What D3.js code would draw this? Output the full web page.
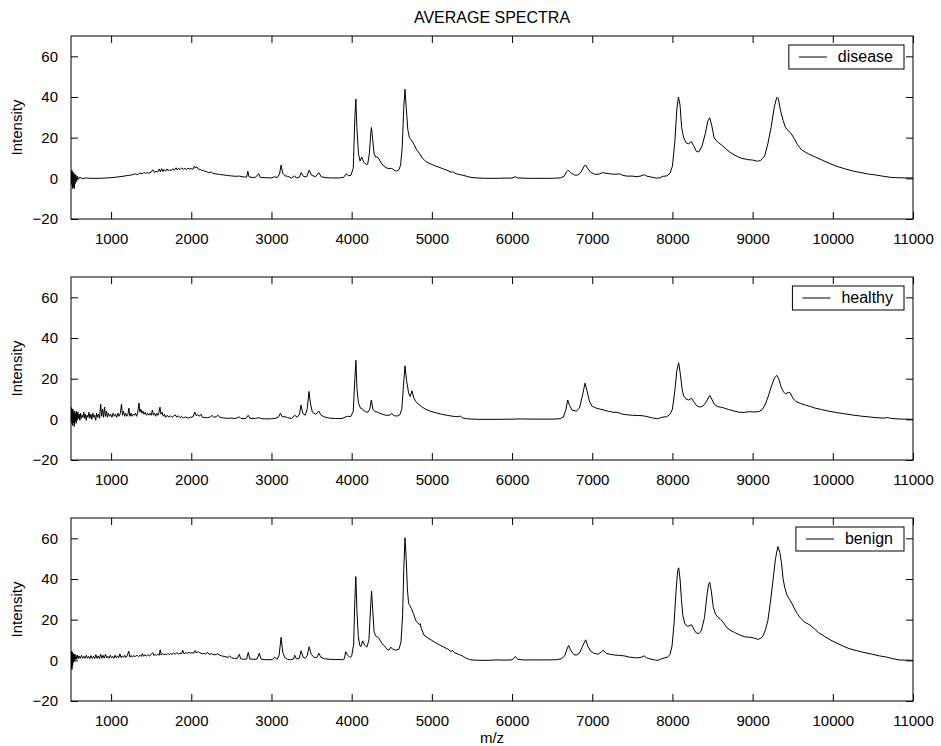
<!DOCTYPE html>
<html>
<head>
<meta charset="utf-8">
<script src="https://cdn.jsdelivr.net/npm/d3@7"></script>
<style>
  body { margin: 0; background: #fff; }
  svg text { font-family: "Liberation Sans", Arial, Helvetica, sans-serif; fill: #000; }
</style>
</head>
<body>
<svg id="chart"></svg>
<script>
// [m/z, intensity] pairs
let disease = [[500,3.5],[505,-3],[512,4],[518,-5],[524,3],[530,-4.5],[536,2.5],[542,-5],[548,2],[555,-2.5],[562,1.5],[570,-1.5],[580,1],[592,-0.5],[610,0.6],[640,-0.2],[680,0.2],[750,0],[850,0],[950,0.2],[1050,0.5],[1150,1],[1200,1.4],[1250,1.6],[1300,2.2],[1330,1.8],[1360,2.6],[1390,2.2],[1410,3],[1430,2.4],[1450,2.8],[1470,2.5],[1500,3.1],[1520,4.2],[1540,2.9],[1560,3.4],[1580,3.1],[1600,4.6],[1615,3.2],[1630,4.8],[1645,3.3],[1660,4.4],[1680,3.5],[1700,4.6],[1715,3.6],[1730,4.2],[1750,3.8],[1770,4.7],[1790,4],[1810,5.2],[1825,4.1],[1840,5],[1860,4.3],[1880,5.1],[1900,4.4],[1920,4.9],[1940,4.3],[1960,5],[1980,4.6],[2000,4.8],[2020,4.5],[2040,6],[2055,5],[2070,5.6],[2090,4.4],[2110,4.5],[2130,3.8],[2150,4],[2170,3.4],[2190,3.3],[2220,2.7],[2250,3.1],[2270,2.4],[2300,2.2],[2350,1.9],[2400,1.7],[2450,1.4],[2500,1.2],[2550,1],[2600,1.1],[2650,0.7],[2690,0.6],[2705,3.5],[2720,0.8],[2760,0.4],[2800,0.5],[2840,2.3],[2860,0.4],[2920,0.3],[3000,0.2],[3040,0.8],[3070,0.3],[3100,2],[3120,6.5],[3140,2.5],[3170,1.2],[3200,1],[3250,0.2],[3290,1.2],[3310,0.2],[3350,0.6],[3370,2.8],[3400,0.9],[3440,0.8],[3470,4],[3500,1.5],[3550,0.8],[3590,2.8],[3620,0.8],[3680,0.3],[3750,0.2],[3850,0.2],[3900,0.5],[3930,2.2],[3960,1.3],[3990,1.5],[4020,5],[4040,30],[4052,39],[4065,25],[4085,12],[4105,8.5],[4125,10.5],[4150,8],[4180,6.8],[4200,7],[4220,12],[4238,22],[4246,25],[4260,20],[4280,12],[4300,10.5],[4320,10.5],[4340,9.5],[4370,7.5],[4400,6],[4440,5],[4480,4.8],[4500,4.9],[4530,4],[4560,3.5],[4590,4.2],[4610,6.5],[4630,15],[4650,35],[4665,43.8],[4680,35],[4700,24],[4720,20],[4750,18.5],[4780,16.5],[4810,14],[4850,12],[4880,10],[4920,8.5],[4960,7.5],[5000,6.8],[5050,6],[5100,5.3],[5150,4.5],[5200,3.8],[5240,3],[5260,3.2],[5300,2.3],[5350,1.8],[5400,1.4],[5450,0.8],[5500,0.4],[5600,0.1],[5700,0],[5800,0],[5900,0.1],[6000,0.1],[6040,0.8],[6070,0.2],[6200,0],[6400,0],[6500,0],[6600,0.2],[6650,1],[6680,3.2],[6700,4],[6730,2.8],[6780,1.6],[6820,1.6],[6860,3],[6900,6],[6915,6.6],[6940,5],[6980,3],[7030,2],[7080,2],[7130,2.8],[7160,2.6],[7220,2.2],[7280,2],[7340,2.2],[7380,1.5],[7430,1.1],[7500,1.1],[7560,0.8],[7620,1.3],[7650,1.8],[7680,1.1],[7740,0.6],[7800,0.1],[7840,0.2],[7880,1],[7930,1.2],[7970,2.5],[8000,6],[8030,18],[8055,34],[8075,40],[8095,36],[8115,25],[8140,20],[8170,17.5],[8200,17],[8235,18],[8265,16],[8300,13.2],[8330,13],[8370,16],[8410,22],[8440,28],[8465,29.8],[8490,26],[8520,20],[8560,18],[8620,16.2],[8680,14],[8730,12.5],[8780,11.3],[8850,10],[8940,9.2],[9000,9],[9060,8.4],[9100,8.8],[9150,11],[9190,17],[9230,25],[9270,35],[9300,39.7],[9320,39.3],[9350,33],[9380,28.5],[9410,25],[9440,23.6],[9480,22],[9520,19.5],[9560,16.5],[9610,14],[9660,12.8],[9700,12],[9780,10.5],[9870,8.9],[9950,7.5],[10040,6],[10150,4.7],[10250,3.6],[10350,2.8],[10460,2],[10530,1.7],[10630,1],[10720,0.5],[10800,0.3],[10900,0.2],[11000,0.2]];

let healthy = [[500,6],[504,-1],[508,5.5],[512,-2],[516,4.5],[520,-3],[525,5],[530,-1.5],[535,3.5],[540,-3.5],[546,4],[552,-1],[558,3],[564,-2],[570,4],[578,0],[586,3.5],[594,0.5],[602,2.5],[610,-0.5],[620,3],[630,0.5],[640,2],[650,1],[660,3.5],[670,0.5],[680,2.5],[690,-0.5],[700,2],[712,1],[724,3.5],[736,0.5],[748,2.5],[760,0],[772,3],[784,1],[796,2],[808,-0.5],[820,3],[832,1],[844,2.5],[856,0.5],[870,7.5],[882,1.5],[894,5],[906,1],[918,6],[930,1.5],[942,4],[954,1],[966,3],[980,1.5],[995,2.5],[1010,1],[1025,3],[1040,1.5],[1055,2.5],[1070,1],[1085,3],[1100,1.5],[1115,3],[1130,7.5],[1142,2],[1155,4],[1168,1.5],[1182,3],[1196,1.5],[1210,2.5],[1222,5.5],[1234,1.5],[1248,3],[1262,1.5],[1276,2.5],[1290,2],[1304,3],[1318,1.5],[1332,3.5],[1348,8],[1360,3.5],[1372,5],[1385,3],[1398,4],[1410,2.5],[1425,3.5],[1440,2],[1455,3],[1470,2],[1485,3],[1500,2],[1515,4.5],[1528,2],[1542,3],[1556,1.5],[1570,3],[1584,2],[1598,3.5],[1610,6],[1622,2.5],[1636,3.5],[1650,1.5],[1665,2.5],[1680,1],[1700,2],[1720,1],[1740,1.8],[1760,1],[1780,1.6],[1800,2.2],[1820,1],[1840,1.8],[1860,0.8],[1880,1.4],[1900,0.7],[1930,1.2],[1960,0.6],[1990,1],[2020,1.2],[2045,3.5],[2060,1.8],[2080,2.3],[2100,1.5],[2120,2.5],[2140,1],[2170,0.9],[2200,0.8],[2240,1.2],[2260,2],[2280,1],[2310,1.3],[2330,2],[2360,1],[2400,0.7],[2450,0.5],[2500,0.6],[2550,0.4],[2600,1.2],[2620,0.4],[2680,0.4],[2710,2],[2730,0.5],[2800,0.4],[2840,0.8],[2880,0.3],[2950,0.2],[3000,0.3],[3050,0.5],[3090,1.2],[3110,3],[3135,1.2],[3170,1.3],[3200,0.8],[3250,0.4],[3290,2],[3320,1],[3350,2.5],[3368,7],[3390,3],[3420,2],[3445,5],[3468,13.7],[3485,8],[3510,3.5],[3550,2.5],[3590,4],[3620,2],[3660,1.2],[3720,0.6],[3800,0.4],[3880,0.4],[3930,1.3],[3950,1.5],[3990,1.4],[4020,4],[4040,20],[4053,29],[4066,15],[4085,8],[4110,5.5],[4135,5],[4170,3.8],[4200,3.5],[4225,5],[4245,9.5],[4265,5],[4290,3.8],[4320,3.6],[4340,3.2],[4380,2.5],[4430,2],[4470,2],[4500,2.8],[4530,1.8],[4570,1.6],[4600,2.2],[4625,5],[4645,16],[4665,26.3],[4685,19],[4710,13],[4730,11.2],[4752,14],[4775,10.5],[4800,8.8],[4830,7.5],[4870,6.3],[4920,5],[4980,4],[5050,3.2],[5120,2.5],[5200,1.9],[5280,1.4],[5330,1.3],[5355,1.6],[5380,0.8],[5430,0.3],[5500,0.1],[5600,0],[5800,0],[6000,0.1],[6100,0.2],[6300,0.1],[6500,0.1],[6600,0.3],[6640,1.2],[6670,4.5],[6694,9.5],[6715,7],[6750,4.5],[6800,4],[6840,5.5],[6880,12],[6910,17.8],[6935,14],[6965,9],[6995,6.5],[7050,5.5],[7100,5],[7150,4.5],[7200,4],[7260,3.5],[7320,3.4],[7360,2.7],[7420,2.3],[7500,2],[7560,1.9],[7620,1.8],[7680,1.4],[7740,0.8],[7800,0.3],[7840,0.6],[7880,1.1],[7930,1.3],[7970,2.5],[8000,5],[8030,14],[8055,24],[8078,27.8],[8100,22],[8120,15],[8140,11.5],[8170,10],[8200,9.5],[8238,10.3],[8270,8.5],[8300,6.8],[8340,6],[8380,6.5],[8420,8.5],[8465,11.7],[8490,10],[8520,7.5],[8560,6.3],[8600,6],[8650,5.5],[8700,4.8],[8760,4.2],[8830,3.5],[8900,3.4],[8960,3.8],[9020,3.6],[9080,3.8],[9120,4.8],[9160,7.5],[9200,12],[9240,17],[9275,20.5],[9300,21.6],[9325,20],[9355,16],[9385,13.5],[9410,12.5],[9445,13.3],[9470,13],[9500,10.5],[9540,8.8],[9600,7.8],[9660,7],[9720,6.3],[9780,5.5],[9860,4.8],[9950,4],[10050,3.3],[10150,2.7],[10250,2.1],[10350,1.6],[10450,1.2],[10550,0.8],[10640,0.6],[10680,0.9],[10720,0.5],[10800,0.2],[10900,0.1],[11000,0]];

let benign = [[500,3.5],[504,-3.5],[508,4.5],[512,-4.5],[516,4],[520,-2.5],[525,3.5],[530,-1],[536,3],[542,-0.5],[548,3],[555,0.5],[562,2.5],[570,0.5],[580,2.5],[590,0.8],[600,2.2],[615,1],[630,2.5],[645,1],[660,2],[675,1],[690,2.5],[705,1],[720,2],[735,0.8],[750,2.3],[765,1],[780,2],[795,0.8],[810,2.8],[825,1],[840,2.2],[855,0.8],[870,3],[885,1],[900,2.5],[915,1],[930,3],[945,1.2],[960,2],[975,1],[990,2.5],[1005,1.2],[1020,2],[1035,1],[1050,2.5],[1065,1.2],[1080,2.2],[1095,1.3],[1110,3.2],[1125,1.3],[1140,2.2],[1155,1.5],[1170,2.5],[1185,1.4],[1200,2.2],[1220,4.5],[1235,1.6],[1250,2.4],[1265,1.6],[1280,2.3],[1300,1.8],[1320,2.6],[1340,1.8],[1360,2.5],[1375,1.9],[1390,3.3],[1405,2],[1420,2.8],[1440,2],[1460,2.8],[1480,2.1],[1500,3],[1520,3.8],[1535,2.3],[1550,3],[1565,2.4],[1580,3],[1600,2.5],[1612,5.2],[1625,2.6],[1640,3.3],[1655,2.6],[1670,3.2],[1690,2.7],[1710,3.5],[1725,2.8],[1740,3.3],[1760,2.9],[1780,3.6],[1800,3],[1820,3.8],[1840,3],[1860,3.6],[1880,3.2],[1893,5],[1910,3.2],[1930,3.8],[1950,3.4],[1970,4],[1990,3.5],[2010,3.8],[2030,3.5],[2048,4.8],[2065,3.6],[2085,4.4],[2100,3.7],[2120,3.5],[2140,3.3],[2160,3.4],[2180,3],[2200,4],[2220,3],[2250,3.2],[2280,2.8],[2310,2.8],[2330,3.2],[2350,2.6],[2380,2.2],[2420,1.8],[2460,1.5],[2480,2.2],[2500,1.2],[2540,1],[2570,0.8],[2600,3],[2615,0.8],[2650,0.5],[2690,0.6],[2710,3.9],[2730,0.7],[2780,0.5],[2820,0.6],[2848,3.5],[2870,0.6],[2920,0.3],[2970,0.3],[3010,0.4],[3040,1.5],[3070,0.5],[3095,2.5],[3120,11.3],[3140,4],[3165,1.4],[3200,0.5],[3240,0.3],[3275,0.6],[3290,2.5],[3310,0.7],[3345,0.9],[3370,4.7],[3395,1.5],[3420,1],[3445,2.3],[3470,6.7],[3495,3],[3530,1.5],[3565,1.3],[3590,3.5],[3615,1.5],[3660,0.8],[3720,0.5],[3800,0.4],[3880,0.3],[3910,0.8],[3925,4.2],[3950,2.5],[3975,1.5],[4000,2],[4025,8],[4040,30],[4052,41.2],[4065,25],[4082,12],[4100,7.5],[4115,6.7],[4137,9.6],[4160,7.5],[4190,6.5],[4215,10],[4235,25],[4248,34],[4262,25],[4280,14],[4300,12],[4320,11.6],[4345,10.5],[4375,8.5],[4410,7],[4440,5.5],[4465,5],[4487,6.5],[4510,5.5],[4550,5],[4590,5.5],[4615,9],[4635,22],[4650,45],[4665,60.3],[4680,50],[4695,35],[4710,28],[4725,26.9],[4745,25.5],[4770,23],[4800,19.5],[4825,18.5],[4845,17.5],[4855,18],[4870,15.5],[4900,12.5],[4950,11],[5000,9.8],[5050,8.6],[5100,7.5],[5150,6.5],[5200,5.5],[5240,4.2],[5255,5],[5280,3.8],[5330,3],[5380,2.2],[5420,1.2],[5470,0.4],[5520,0.1],[5600,0],[5700,0],[5800,0.2],[5900,0.1],[6000,0.2],[6040,1.9],[6070,0.5],[6150,0.2],[6300,0.2],[6450,0.2],[6550,0.3],[6620,0.8],[6660,2.5],[6690,6],[6706,7.3],[6730,5],[6770,2.8],[6800,2.6],[6840,3.5],[6880,7],[6918,10.1],[6945,7],[6980,4.5],[7020,3.5],[7070,3],[7110,4],[7138,5],[7170,3.5],[7220,3],[7280,2.6],[7340,2.4],[7400,2.2],[7460,1.6],[7510,1.4],[7560,1.2],[7610,1.5],[7649,2.2],[7680,1.2],[7730,0.6],[7790,0.1],[7820,0],[7860,0.7],[7900,1.2],[7940,1.5],[7970,3],[7995,7],[8020,18],[8045,34],[8065,44],[8078,45.5],[8095,40],[8112,30],[8130,22],[8155,18],[8190,16.7],[8238,17.5],[8270,15],[8300,13.4],[8330,13.2],[8360,14.5],[8400,21],[8430,32],[8452,37.5],[8465,38.4],[8485,34],[8510,26],[8540,22.5],[8570,21.1],[8600,20.2],[8633,18.7],[8680,16],[8730,14.6],[8775,13.7],[8840,12.5],[8900,11.6],[8950,11.4],[8980,11.3],[9030,10.8],[9065,10.3],[9100,10.8],[9128,12],[9160,15],[9190,19.5],[9220,28],[9253,39],[9285,50],[9315,55.9],[9340,53],[9360,48],[9380,40],[9400,36],[9430,32],[9460,30],[9493,27.7],[9540,24],[9590,21.1],[9650,18.7],[9715,17.4],[9770,15.5],[9820,13.7],[9900,11.7],[9990,9.6],[10100,7.5],[10200,5.8],[10350,4.2],[10490,3],[10580,2.2],[10660,1.7],[10740,0.9],[10825,0.2],[10900,0.1],[11000,0]];

let seriesNames = ["disease", "healthy", "benign"];
let seriesData = [disease, healthy, benign];
let xTicks = [1000, 2000, 3000, 4000, 5000, 6000, 7000, 8000, 9000, 10000, 11000];
let yTicks = [-20, 0, 20, 40, 60];

let svgWidth = 941;
let svgHeight = 746;

// panel geometry
let left = 71, right = 913;
let panelTops = [36, 277, 518];
let panelHeight = 183;
let tickLen = 7;

let svg = d3.select("#chart")
    .attr("width", svgWidth)
    .attr("height", svgHeight);

let x = d3.scaleLinear().domain([500, 11000]).range([left, right]);

let fmt = d => d < 0 ? "\u2212" + Math.abs(d) : String(d);

svg.append("text")
    .attr("x", (left + right) / 2)
    .attr("y", 23)
    .attr("text-anchor", "middle")
    .style("font-size", "16px")
    .text("AVERAGE SPECTRA");

seriesData.forEach(function(data, i) {
    let top = panelTops[i];
    let bottom = top + panelHeight;
    let y = d3.scaleLinear().domain([-20, 70]).range([bottom, top]);
    let g = svg.append("g");

    g.append("clipPath").attr("id", "clip" + i)
        .append("rect")
        .attr("x", left).attr("y", top)
        .attr("width", right - left).attr("height", panelHeight);

    let line = d3.line()
        .x(d => x(d[0]))
        .y(d => y(d[1]));

    g.append("path")
        .datum(data)
        .attr("clip-path", "url(#clip" + i + ")")
        .attr("fill", "none")
        .attr("stroke", "#000")
        .attr("stroke-width", 1)
        .attr("stroke-linejoin", "round")
        .attr("d", line);

    // bottom & top axes (ticks pointing inward)
    let xb = g.append("g").attr("transform", "translate(0," + bottom + ")")
        .call(d3.axisBottom(x).tickValues(xTicks).tickSize(-tickLen).tickPadding(tickLen + 7).tickFormat(fmt));
    let xt = g.append("g").attr("transform", "translate(0," + top + ")")
        .call(d3.axisTop(x).tickValues(xTicks).tickSize(-tickLen).tickFormat(""));
    let yl = g.append("g").attr("transform", "translate(" + left + ",0)")
        .call(d3.axisLeft(y).tickValues(yTicks).tickSize(-tickLen).tickPadding(tickLen + 6).tickFormat(fmt));
    let yr = g.append("g").attr("transform", "translate(" + right + ",0)")
        .call(d3.axisRight(y).tickValues(yTicks).tickSize(-tickLen).tickFormat(""));

    [xb, xt, yl, yr].forEach(function(a) {
        a.select(".domain").remove();
        a.selectAll("line").attr("stroke", "#000");
        a.selectAll("text").style("font-size", "15px").attr("fill", "#000");
    });

    // axes box
    g.append("rect")
        .attr("x", left).attr("y", top)
        .attr("width", right - left).attr("height", panelHeight)
        .attr("fill", "none").attr("stroke", "#000").attr("stroke-width", 1);

    g.append("text")
        .attr("transform", "translate(22," + (top + panelHeight / 2) + ") rotate(-90)")
        .attr("text-anchor", "middle")
        .style("font-size", "15px")
        .text("Intensity");

    // legend
    let lg = g.append("g");
    let lt = lg.append("text")
        .attr("y", top + 26)
        .style("font-size", "16px")
        .text(seriesNames[i]);
    let tw = lt.node().getComputedTextLength();
    let boxRight = right - 9;
    let textX = boxRight - 11 - tw;
    lt.attr("x", textX);
    let boxLeft = textX - 49;
    lg.insert("rect", "text")
        .attr("x", boxLeft).attr("y", top + 9)
        .attr("width", boxRight - boxLeft).attr("height", 24)
        .attr("fill", "#fff").attr("stroke", "#000").attr("stroke-width", 1);
    lg.append("line")
        .attr("x1", boxLeft + 10).attr("x2", boxLeft + 38)
        .attr("y1", top + 21).attr("y2", top + 21)
        .attr("stroke", "#000");
});

svg.append("text")
    .attr("x", (left + right) / 2)
    .attr("y", 743)
    .attr("text-anchor", "middle")
    .style("font-size", "15px")
    .text("m/z");
</script>
</body>
</html>
